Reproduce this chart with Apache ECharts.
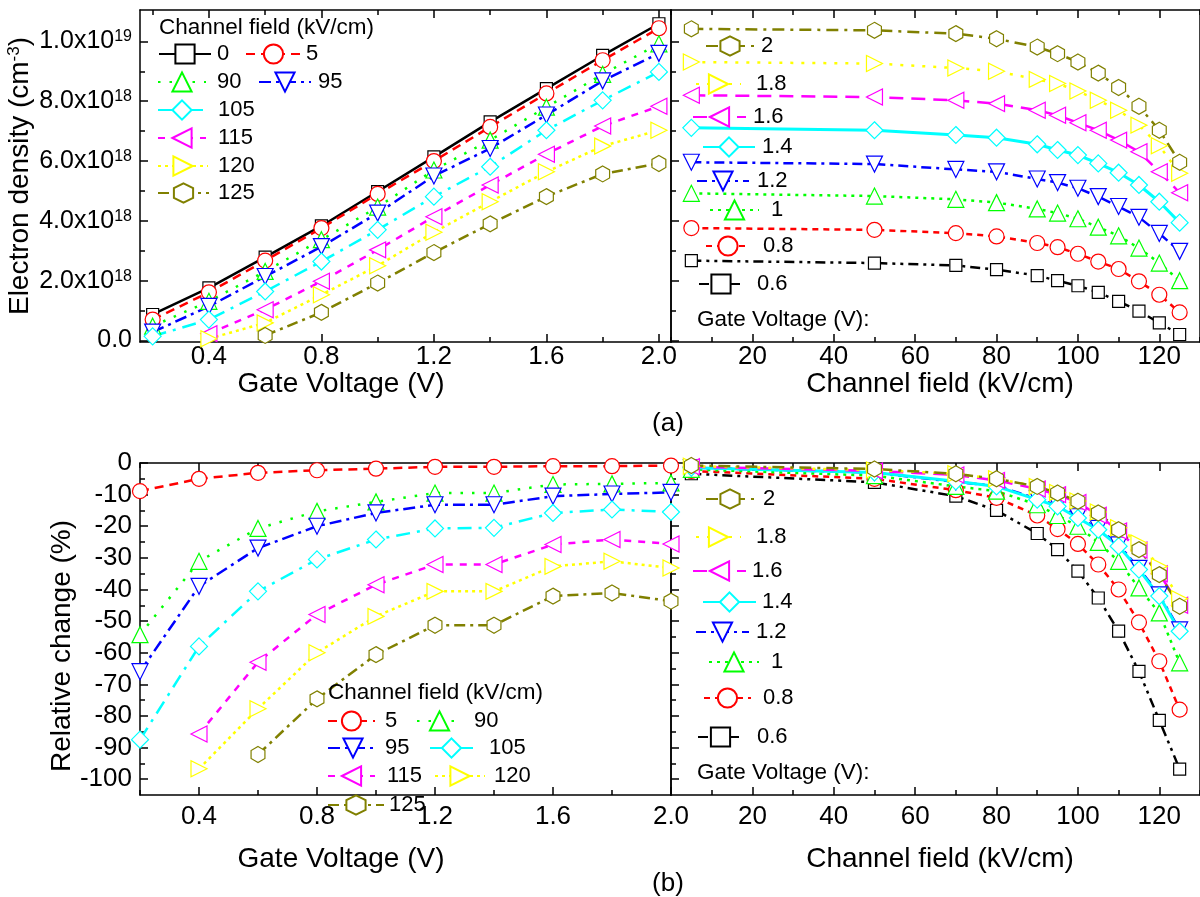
<!DOCTYPE html>
<html><head><meta charset="utf-8">
<script src="https://cdn.jsdelivr.net/npm/echarts/dist/echarts.min.js"></script>
<style>html,body{margin:0;padding:0;background:#fff}#c{width:1200px;height:897px}</style>
</head><body><div id="c"></div>
<script>
// ---------------- DATA ----------------
const gateVoltages = [0.2, 0.4, 0.6, 0.8, 1.0, 1.2, 1.4, 1.6, 1.8, 2.0];
const channelFields = [5, 50, 70, 80, 90, 95, 100, 105, 110, 115, 120, 125];

// (a) left: electron density (x1e18 cm^-3) vs gate voltage, per channel field (kV/cm)
const dens_0   = [0.87, 1.76, 2.79, 3.83, 4.98, 6.14, 7.31, 8.42, 9.53, 10.59];
const dens_5   = [0.70, 1.61, 2.67, 3.76, 4.90, 6.00, 7.14, 8.26, 9.37, 10.44];
const dens_90  = [0.48, 1.31, 2.31, 3.37, 4.46, 5.70, 6.70, 7.80, 8.90, 9.92];
const dens_95  = [0.28, 1.14, 2.14, 3.14, 4.26, 5.50, 6.42, 7.54, 8.68, 9.60];
const dens_105 = [0.14, 0.70, 1.64, 2.64, 3.70, 4.81, 5.81, 7.03, 8.03, 8.98];
const dens_115 = [null, 0.23, 1.03, 1.98, 3.03, 4.14, 5.20, 6.23, 7.17, 7.83];
const dens_120 = [null, 0.06, 0.59, 1.53, 2.50, 3.62, 4.64, 5.64, 6.50, 7.03];
const dens_125 = [null, null, 0.17, 0.94, 1.92, 2.94, 3.90, 4.81, 5.57, 5.92];

// (a) right: electron density (x1e18) vs channel field, per gate voltage (V)
const densG_2   = [10.42, 10.37, 10.26, 10.09, 9.81, 9.59, 9.31, 8.94, 8.46, 7.83, 7.03, 5.96];
const densG_1_8 = [9.31, 9.26, 9.11, 9.00, 8.73, 8.59, 8.34, 8.03, 7.70, 7.20, 6.51, 5.59];
const densG_1_6 = [8.20, 8.14, 8.03, 7.92, 7.70, 7.53, 7.28, 7.03, 6.70, 6.31, 5.64, 4.94];
const densG_1_4 = [7.11, 7.03, 6.87, 6.78, 6.56, 6.37, 6.20, 5.92, 5.61, 5.20, 4.64, 3.94];
const densG_1_2 = [5.96, 5.90, 5.72, 5.64, 5.40, 5.28, 5.09, 4.81, 4.48, 4.12, 3.58, 2.98];
const densG_1   = [4.92, 4.83, 4.72, 4.61, 4.40, 4.26, 4.07, 3.79, 3.50, 3.09, 2.59, 2.00];
const densG_0_8 = [3.76, 3.70, 3.59, 3.48, 3.26, 3.12, 2.90, 2.64, 2.39, 1.98, 1.53, 0.94];
const densG_0_6 = [2.67, 2.59, 2.51, 2.37, 2.17, 2.00, 1.83, 1.61, 1.31, 0.98, 0.59, 0.20];

// (b) left: relative change (%) vs gate voltage, per channel field
const rel_5   = [-8.9, -5.0, -3.1, -2.3, -1.8, -1.2, -1.2, -1.0, -1.0, -0.8];
const rel_90  = [-54.3, -31.1, -20.7, -15.3, -12.3, -9.5, -9.5, -6.8, -6.6, -6.3];
const rel_95  = [-66.0, -39.0, -26.9, -20.0, -15.8, -13.2, -13.2, -10.5, -9.8, -9.3];
const rel_105 = [-87.5, -58.0, -40.6, -30.5, -24.2, -20.7, -20.5, -15.8, -14.7, -15.5];
const rel_115 = [null, -85.7, -63.0, -47.9, -38.5, -32.1, -32.1, -25.8, -24.2, -25.6];
const rel_120 = [null, -96.7, -77.7, -60.0, -48.5, -40.6, -40.6, -32.7, -31.1, -33.2];
const rel_125 = [null, null, -92.2, -74.6, -60.6, -51.3, -51.3, -42.1, -41.1, -43.7];

// (b) right: relative change (%) vs channel field, per gate voltage
const relG_2   = [-0.8, -1.9, -3.4, -5.0, -7.4, -9.5, -12.1, -15.8, -21.1, -27.4, -35.3, -45.3];
const relG_1_8 = [-1.0, -2.2, -3.4, -5.0, -7.4, -9.3, -12.0, -15.5, -20.5, -25.3, -32.7, -42.9];
const relG_1_6 = [-1.2, -2.5, -3.8, -5.5, -8.2, -10.0, -12.5, -16.5, -21.5, -27.5, -35.0, -45.0];
const relG_1_4 = [-1.5, -3.0, -5.8, -7.4, -11.6, -13.7, -17.4, -21.1, -26.3, -33.7, -42.1, -53.2];
const relG_1_2 = [-1.5, -3.0, -6.0, -7.2, -11.3, -13.4, -17.0, -20.7, -25.9, -33.3, -41.7, -52.8];
const relG_1   = [-2.0, -4.0, -7.4, -8.9, -13.2, -16.6, -20.0, -25.1, -31.1, -39.5, -47.4, -63.2];
const relG_0_8 = [-2.5, -5.0, -8.6, -11.0, -16.6, -20.9, -25.6, -32.1, -40.0, -50.4, -62.7, -78.0];
const relG_0_6 = [-3.4, -6.1, -10.5, -15.0, -22.3, -27.4, -34.2, -42.7, -53.2, -65.9, -81.4, -96.8];

// tick values
const gateMajorTicks = [0.4, 0.8, 1.2, 1.6, 2.0];
const gateMinorTicks = [0.2, 0.6, 1.0, 1.4, 1.8];
const fieldMajorTicks = [20, 40, 60, 80, 100, 120];
const fieldMinorTicks = [0, 10, 30, 50, 70, 90, 110, 130];
const densMajorTicks = [0, 2, 4, 6, 8, 10];
const densMinorTicks = [1, 3, 5, 7, 9];
const relMajorTicks = [0, -10, -20, -30, -40, -50, -60, -70, -80, -90, -100];
const relMinorTicks = [-5, -15, -25, -35, -45, -55, -65, -75, -85, -95];

// ---------------- STYLES ----------------
const FF = 'Liberation Sans';
const HEX = 'path://M0,-10L8.66,-5L8.66,5L0,10L-8.66,5L-8.66,-5Z';
const fieldStyle = {
  '0':   {color:'#000000', symbol:'rect', size:12, dash:'solid'},
  '5':   {color:'#FF0000', symbol:'circle', size:15, dash:[9,6]},
  '90':  {color:'#00FF00', symbol:'triangle', size:16, dash:[2.5,9]},
  '95':  {color:'#0000FF', symbol:'triangle', rot:180, size:16, dash:[12,5,3,5]},
  '105': {color:'#00FFFF', symbol:'diamond', size:17, dash:[14,7,3,7]},
  '115': {color:'#FF00FF', symbol:'triangle', rot:90, size:16, dash:[7,7]},
  '120': {color:'#FFFF00', symbol:'triangle', rot:-90, size:16, dash:[3,4]},
  '125': {color:'#808000', symbol:HEX, size:16, dash:[11,5,3,5]}
};
const gateStyle = {
  '2':   {color:'#808000', symbol:HEX, size:16, dash:[12,6,3,6]},
  '1.8': {color:'#FFFF00', symbol:'triangle', rot:-90, size:16, dash:[3,8]},
  '1.6': {color:'#FF00FF', symbol:'triangle', rot:90, size:16, dash:[14,8]},
  '1.4': {color:'#00FFFF', symbol:'diamond', size:17, dash:'solid', w:3},
  '1.2': {color:'#0000FF', symbol:'triangle', rot:180, size:16, dash:[10,5,3,5]},
  '1':   {color:'#00FF00', symbol:'triangle', size:16, dash:[3,5]},
  '0.8': {color:'#FF0000', symbol:'circle', size:15, dash:[6,5]},
  '0.6': {color:'#000000', symbol:'rect', size:12, dash:[10,5,3,5,3,5]}
};

// ---------------- AXES ----------------
const xAxes = [], yAxes = [];
const AX = {color:'#000', width:1.5};
function addAxis(list, o) {
  list.push(Object.assign({
    type:'value', splitLine:{show:false},
    axisLine:{show:true, onZero:false, lineStyle:AX},
    axisLabel:{show:false}
  }, o));
  return list.length - 1;
}
function panel(gi, xr, yr) {
  const xi = addAxis(xAxes, {gridIndex:gi, min:xr.min, max:xr.max, position:'bottom',
    axisTick:{show:true, inside:true, length:8, customValues:xr.major, lineStyle:AX},
    axisLabel: xr.labels ? {show:true, customValues:xr.labels, formatter:xr.fmt, fontSize:26, fontFamily:FF, color:'#000', margin:xr.margin} : {show:false}});
  addAxis(xAxes, {gridIndex:gi, min:xr.min, max:xr.max, position:'bottom', axisLine:{show:false, onZero:false},
    axisTick:{show:true, inside:true, length:5, customValues:xr.minor, lineStyle:AX}});
  addAxis(xAxes, {gridIndex:gi, min:xr.min, max:xr.max, position:'top',
    axisTick:{show:true, inside:true, length:8, customValues:xr.major, lineStyle:AX}});
  addAxis(xAxes, {gridIndex:gi, min:xr.min, max:xr.max, position:'top', axisLine:{show:false, onZero:false},
    axisTick:{show:true, inside:true, length:5, customValues:xr.minor, lineStyle:AX}});
  const yi = addAxis(yAxes, {gridIndex:gi, min:yr.min, max:yr.max, position:'left',
    axisTick:{show:true, inside:true, length:8, customValues:yr.major, lineStyle:AX},
    axisLabel: yr.labels ? {show:true, customValues:yr.major, formatter:yr.fmt, rich:yr.rich, fontSize:yr.fs, fontFamily:FF, color:'#000', margin:8} : {show:false}});
  addAxis(yAxes, {gridIndex:gi, min:yr.min, max:yr.max, position:'left', axisLine:{show:false, onZero:false},
    axisTick:{show:true, inside:true, length:5, customValues:yr.minor, lineStyle:AX}});
  addAxis(yAxes, {gridIndex:gi, min:yr.min, max:yr.max, position:'right', axisTick:{show:false}});
  return {xi, yi};
}
const gateFmt = v => v.toFixed(1);
const fieldFmt = v => String(v);
const densFmt = v => v === 0 ? '0.0' : (v === 10 ? '{a|1.0x10}{s|19}' : '{a|' + v.toFixed(1) + 'x10}{s|18}');
const densRich = {a:{fontSize:25, fontFamily:FF, color:'#000'}, s:{fontSize:16, fontFamily:FF, color:'#000', verticalAlign:'top'}};
const relFmt = v => String(v);

const pTL = panel(0, {min:0.155, max:2.043, major:gateMajorTicks, minor:gateMinorTicks, labels:gateMajorTicks, fmt:gateFmt, margin:2},
                     {min:-0.05, max:11.05, major:densMajorTicks, minor:densMinorTicks, labels:true, fmt:densFmt, rich:densRich, fs:25});
const pTR = panel(1, {min:0, max:130, major:fieldMajorTicks, minor:fieldMinorTicks, labels:fieldMajorTicks, fmt:fieldFmt, margin:2},
                     {min:-0.05, max:11.05, major:densMajorTicks, minor:densMinorTicks, labels:false});
const pBL = panel(2, {min:0.2, max:2.0, major:gateMajorTicks, minor:gateMinorTicks, labels:gateMajorTicks, fmt:gateFmt, margin:9},
                     {min:-105, max:0, major:relMajorTicks, minor:relMinorTicks, labels:true, fmt:relFmt, fs:26});
const pBR = panel(3, {min:0, max:130, major:fieldMajorTicks, minor:fieldMinorTicks, labels:fieldMajorTicks, fmt:fieldFmt, margin:9},
                     {min:-105, max:0, major:relMajorTicks, minor:relMinorTicks, labels:false});

// ---------------- SERIES ----------------
function mkSeries(name, st, xs, ys, p) {
  const data = [];
  xs.forEach((x, i) => { if (ys[i] !== null && ys[i] !== undefined) data.push([x, ys[i]]); });
  return {type:'line', name, xAxisIndex:p.xi, yAxisIndex:p.yi, data,
    symbol:st.symbol, symbolSize:st.size, symbolRotate:st.rot || 0, symbolKeepAspect:true,
    showAllSymbol:true, clip:true, animation:false,
    lineStyle:{color:st.color, width:st.w || 2.5, type:st.dash},
    itemStyle:{color:'#ffffff', borderColor:st.color, borderWidth:1.2},
    emphasis:{disabled:true}};
}
const series = [];
const tlSets = [['0',dens_0],['5',dens_5],['90',dens_90],['95',dens_95],['105',dens_105],['115',dens_115],['120',dens_120],['125',dens_125]];
tlSets.forEach(([n, d]) => series.push(mkSeries(n, fieldStyle[n], gateVoltages, d, pTL)));
const trSets = [['0.6',densG_0_6],['0.8',densG_0_8],['1',densG_1],['1.2',densG_1_2],['1.4',densG_1_4],['1.6',densG_1_6],['1.8',densG_1_8],['2',densG_2]];
trSets.forEach(([n, d]) => series.push(mkSeries(n, gateStyle[n], channelFields, d, pTR)));
const blSets = [['5',rel_5],['90',rel_90],['95',rel_95],['105',rel_105],['115',rel_115],['120',rel_120],['125',rel_125]];
blSets.forEach(([n, d]) => series.push(mkSeries(n, fieldStyle[n], gateVoltages, d, pBL)));
const brSets = [['0.6',relG_0_6],['0.8',relG_0_8],['1',relG_1],['1.2',relG_1_2],['1.4',relG_1_4],['1.6',relG_1_6],['1.8',relG_1_8],['2',relG_2]];
brSets.forEach(([n, d]) => series.push(mkSeries(n, gateStyle[n], channelFields, d, pBR)));

// ---------------- LEGENDS ----------------
function leg(name, x1, x2, tx, yc) {
  return {show:true, data:[name], left:x1, top:yc - 12, itemWidth:x2 - x1, itemHeight:24, padding:0, itemGap:0,
    selectedMode:false, itemStyle:{color:'#fff'},
    textStyle:{fontSize:22, fontFamily:FF, color:'#000', padding:[0, 0, 0, Math.max(0, tx - (x2 + 5))]}};
}
const legends = [
  leg('0', 158, 210, 216, 55), leg('5', 245, 300, 303, 55),
  leg('90', 157, 205, 216, 83), leg('95', 258, 310, 317, 83),
  leg('105', 157, 205, 217, 111), leg('115', 157, 205, 217, 139),
  leg('120', 157, 207, 217, 167), leg('125', 157, 208, 217, 194),
  // top-right
  leg('2', 705, 753, 760, 47), leg('1.8', 695, 740, 755, 85), leg('1.6', 692, 745, 752, 118),
  leg('1.4', 702, 754, 761, 148), leg('1.2', 696, 748, 756, 182), leg('1', 709, 758, 770, 211),
  leg('0.8', 705, 749, 762, 247), leg('0.6', 698, 742, 756, 285),
  // bottom-left
  leg('5', 327, 374, 384, 722), leg('90', 416, 461, 473, 722),
  leg('95', 327, 377, 384, 749), leg('105', 429, 472, 488, 749),
  leg('115', 327, 374, 386, 777), leg('120', 434, 484, 493, 777),
  leg('125', 327, 383, 388, 806),
  // bottom-right
  leg('2', 705, 753, 762, 500), leg('1.8', 695, 740, 755, 538), leg('1.6', 692, 745, 751, 572),
  leg('1.4', 702, 755, 761, 603), leg('1.2', 695, 748, 755, 633), leg('1', 708, 758, 770, 663),
  leg('0.8', 703, 750, 762, 699), leg('0.6', 697, 742, 756, 738)
];

// ---------------- TEXTS ----------------
function txt(text, x, y, size, align, rot) {
  return {type:'text', x, y, rotation:rot || 0, z:100,
    style:{text, fontSize:size, fontFamily:FF, fill:'#000', align:align || 'center', verticalAlign:'middle'}};
}
const graphics = [
  {type:'text', x:20, y:176, rotation:Math.PI/2, z:100,
   style:{text:'{a|Electron density (cm}{s|-3}{a|)}', fill:'#000', align:'center', verticalAlign:'middle',
     rich:{a:{fontSize:28, fontFamily:FF, fill:'#000'}, s:{fontSize:17, fontFamily:FF, fill:'#000', verticalAlign:'top'}}}},
  txt('Relative change (%)', 62, 646, 28, 'center', Math.PI/2),
  txt('Gate Voltage (V)', 341, 384, 28),
  txt('Channel field (kV/cm)', 940, 384, 28),
  txt('(a)', 668, 424, 26),
  txt('Gate Voltage (V)', 341, 859, 28),
  txt('Channel field (kV/cm)', 940, 859, 28),
  txt('(b)', 668, 884, 26),
  txt('Channel field (kV/cm)', 159, 28, 22.5, 'left'),
  txt('Channel field (kV/cm)', 328, 693, 22.5, 'left'),
  txt('Gate Voltage (V):', 697, 320, 22.5, 'left'),
  txt('Gate Voltage (V):', 697, 773, 22.5, 'left')
];

const chart = echarts.init(document.getElementById('c'), null, {renderer:'canvas'});
chart.setOption({
  animation:false,
  backgroundColor:'#fff',
  textStyle:{fontFamily:FF},
  grid:[
    {left:140, top:10, width:531, height:332},
    {left:671, top:10, width:543, height:332},
    {left:140, top:463, width:531, height:332},
    {left:671, top:463, width:543, height:332}
  ],
  xAxis:xAxes, yAxis:yAxes,
  legend:legends,
  series,
  graphic:graphics
});
</script></body></html>
